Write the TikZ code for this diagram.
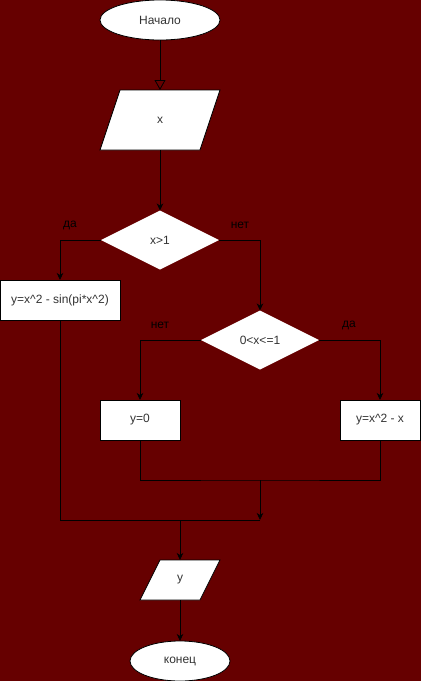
\documentclass[tikz,border=0pt]{standalone}
\usepackage{fontspec}
\setmainfont{Liberation Sans}
\usetikzlibrary{shapes.geometric,arrows.meta}
\definecolor{bgred}{HTML}{660000}
\definecolor{txt}{HTML}{333333}
\begin{document}
\begin{tikzpicture}[x=1pt,y=-1pt,
  font=\fontsize{12}{14}\selectfont,
  every node/.style={inner sep=0pt,outer sep=0pt,text=txt},
  terminal/.style={ellipse,draw=black,fill=white,line width=0.8pt},
  process/.style={rectangle,draw=black,fill=white,line width=0.8pt},
  decision/.style={diamond,draw=none,fill=white,aspect=2},
  iobox/.style={rectangle,draw=none},
  slanted/.style={fill=white,draw=black,line width=0.8pt},
  flow/.style={line width=0.8pt,draw=black,-{Stealth[length=7pt,width=6.5pt,inset=2pt]}},
  plain/.style={line width=0.8pt,draw=black},
  lbl/.style={text=black}]
  \fill[bgred] (0,0) rectangle (421,681);
  \useasboundingbox (0,0) rectangle (421,681);

  % nodes
  \node[terminal,minimum width=120,minimum height=40] (start) at (160,20) {Начало};
  \node[iobox,minimum width=100,minimum height=60] (in) at (160,120) {};
  \node[decision,minimum width=118,minimum height=59] (d1) at (160,240) {x>1};
  \node[process,minimum width=120,minimum height=40] (b1) at (60,300) {y=x\string^2 - sin(pi*x\string^2)};
  \node[decision,minimum width=118,minimum height=59] (d2) at (260,340) {0<x<=1};
  \node[process,minimum width=80,minimum height=40] (b2) at (140,420) {y=0};
  \node[process,minimum width=80,minimum height=40] (b3) at (380,420) {y=x\string^2 - x};
  \node[iobox,minimum width=60,minimum height=40] (out) at (180,580) {};
  \node[terminal,minimum width=100,minimum height=40] (end) at (180,661) {конец};

  % input/output parallelograms around their frames
  \filldraw[slanted]
    ([xshift=-10]in.south west) -- ([xshift=10]in.north west) --
    ([xshift=10]in.north east) -- ([xshift=-10]in.south east) -- cycle;
  \filldraw[slanted]
    ([xshift=-10]out.south west) -- ([xshift=10]out.north west) --
    ([xshift=10]out.north east) -- ([xshift=-10]out.south east) -- cycle;
  \node (intext) at (in) {x};
  \node (outtext) at (out) {y};

  % junction points
  \coordinate (m1) at (260,480);
  \coordinate (m2) at (260,520);
  \coordinate (m3) at (180,520);

  % connectors
  \draw[line width=0.8pt,-{Triangle[open,length=10pt,width=11pt,fill=bgred]}] (start) -- (in);
  \draw[flow] (in) -- (d1);
  \draw[flow] (d1.west) -| (b1.north);
  \draw[flow] (d1.east) -| (d2.north);
  \draw[flow] (d2.west) -| (b2.north);
  \draw[flow] (d2.east) -| (b3.north);
  \draw[plain] (b2.south) |- (m1) -| (b3.south);
  \draw[flow] (m1) -- (m2);
  \draw[plain] (b1.south) |- (m2);
  \draw[flow] (m3) -- (out);
  \draw[flow] (out) -- (end);

  % branch labels
  \node[lbl] (l1) at (70,225) {да};
  \node[lbl] (l2) at (240,225) {нет};
  \node[lbl] (l3) at (160,325) {нет};
  \node[lbl] (l4) at (349,325) {да};
\end{tikzpicture}
\end{document}
